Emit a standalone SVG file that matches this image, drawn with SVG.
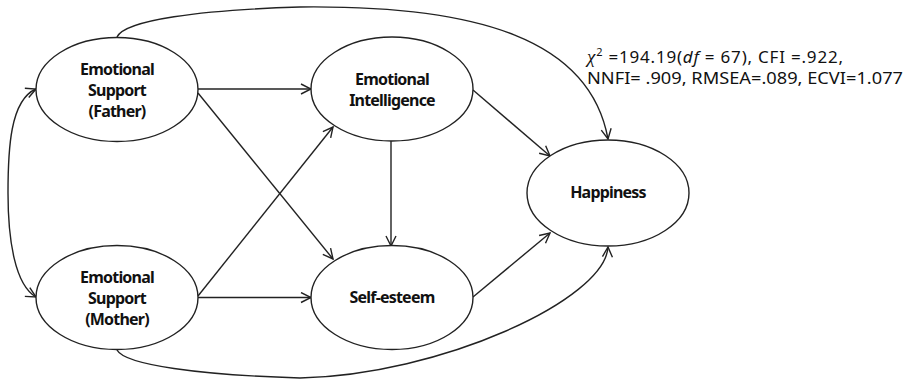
<svg xmlns="http://www.w3.org/2000/svg" width="914" height="382" viewBox="0 0 914 382">
<style>
.node ellipse{fill:#fff;stroke:#222;stroke-width:1.4}
.node text{font-family:"Noto Sans","Open Sans",sans-serif;font-weight:bold;font-size:16px;fill:#111;text-anchor:middle;letter-spacing:-0.8px}
.conn path{fill:none;stroke:#222;stroke-width:1.4}
.fit{font-family:"Noto Sans","Open Sans",sans-serif;font-size:17px;fill:#111}
</style>
<defs>
<marker id="arr" viewBox="0 0 12 12" refX="11" refY="6" markerWidth="12" markerHeight="12" markerUnits="userSpaceOnUse" orient="auto-start-reverse">
<path d="M1,1 L11,6 L1,11" fill="none" stroke="#222" stroke-width="1.4"/>
</marker>
</defs>
<g id="connectors" class="conn">
<path d="M198,89 L311,89" marker-end="url(#arr)"/>
<path d="M198,93 L333,259" marker-end="url(#arr)"/>
<path d="M198,296 L333,127" marker-end="url(#arr)"/>
<path d="M198,297.5 L311,297.5" marker-end="url(#arr)"/>
<path d="M391,141 L391,246" marker-end="url(#arr)"/>
<path d="M473,90 L550,156" marker-end="url(#arr)"/>
<path d="M473,297 L550,233" marker-end="url(#arr)"/>
<path d="M117,37 C125,20 200,10 300,7 C480,5 590,40 608,139" marker-end="url(#arr)"/>
<path d="M117,350 C125,365 200,375 300,378 C440,375 605,300 608,247" marker-end="url(#arr)"/>
<path d="M36,89 C10,100 8,150 8,193 C8,240 15,285 36,297" marker-start="url(#arr)" marker-end="url(#arr)"/>
</g>
<g id="father" class="node">
<ellipse cx="117" cy="89.5" rx="81" ry="52"/>
<text x="117" y="75">Emotional</text>
<text x="117" y="96">Support</text>
<text x="117" y="117">(Father)</text>
</g>
<g id="mother" class="node">
<ellipse cx="117" cy="297.5" rx="81" ry="52"/>
<text x="117" y="283">Emotional</text>
<text x="117" y="304">Support</text>
<text x="117" y="325">(Mother)</text>
</g>
<g id="ei" class="node">
<ellipse cx="392" cy="89" rx="81" ry="52"/>
<text x="392" y="85">Emotional</text>
<text x="392" y="106">Intelligence</text>
</g>
<g id="selfesteem" class="node">
<ellipse cx="392" cy="297.5" rx="81" ry="52"/>
<text x="392" y="303">Self-esteem</text>
</g>
<g id="happiness" class="node">
<ellipse cx="608" cy="193" rx="81" ry="53"/>
<text x="608" y="198">Happiness</text>
</g>
<g id="fit">
<text class="fit" x="587" y="63" textLength="256"><tspan font-style="italic" font-family="'Liberation Serif',serif" font-size="19">χ</tspan><tspan font-size="11" dy="-7">2</tspan><tspan dy="7"> =194.19(</tspan><tspan font-style="italic">df</tspan><tspan> = 67), CFI =.922,</tspan></text>
<text class="fit" x="587" y="84" textLength="316" lengthAdjust="spacingAndGlyphs">NNFI= .909, RMSEA=.089, ECVI=1.077</text>
</g>
</svg>
